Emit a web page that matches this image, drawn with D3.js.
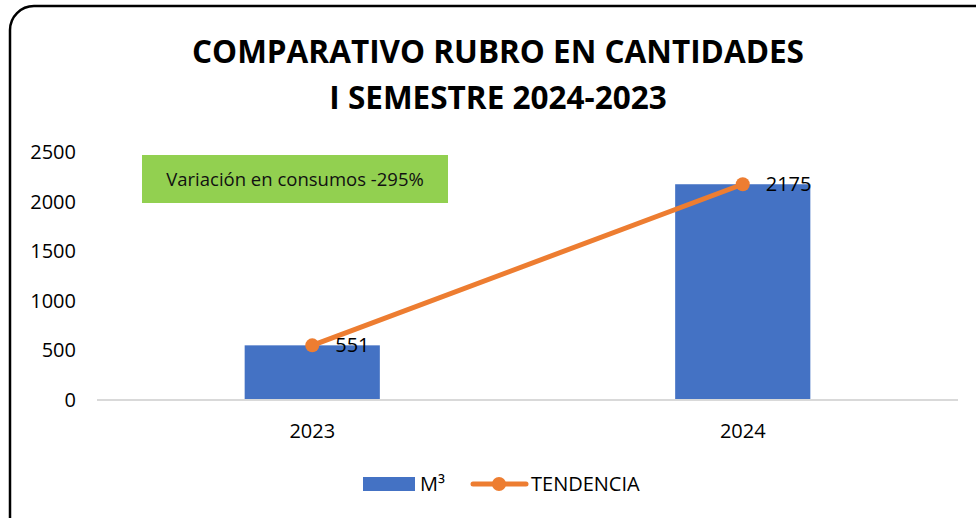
<!DOCTYPE html>
<html>
<head>
<meta charset="utf-8">
<script src="https://cdn.jsdelivr.net/npm/d3@7"></script>
<style>
  body { margin: 0; background: #fff; }
  svg { display: block; font-family: "Open Sans", "Noto Sans", sans-serif; }
</style>
</head>
<body>
<svg id="chart" width="976" height="518"></svg>
<script>
const years = ["2023", "2024"];
const volumes = [551, 2175];
const yTicks = [0, 500, 1000, 1500, 2000, 2500];
const titleLines = ["COMPARATIVO RUBRO EN CANTIDADES", "I SEMESTRE 2024-2023"];
const noteText = "Variación en consumos -295%";
const legendItems = ["M³", "TENDENCIA"];

const svg = d3.select("#chart");
const MARGIN = { LEFT: 97, RIGHT: 18, TOP: 152, BOTTOM: 118 };
const width = 976, height = 518;

const BLUE = "#4472C4";
const ORANGE = "#ED7D31";
const FS = 20;

// frame, rounded and running off the right / bottom edge
svg.append("rect")
  .attr("x", 10).attr("y", 6)
  .attr("width", 1000).attr("height", 560)
  .attr("rx", 24)
  .attr("fill", "none")
  .attr("stroke", "#000")
  .attr("stroke-width", 2.5);

const x = d3.scaleBand()
  .domain(years)
  .range([MARGIN.LEFT, width - MARGIN.RIGHT])
  .paddingInner(0.686)
  .paddingOuter(0.343);

const y = d3.scaleLinear()
  .domain([0, 2500])
  .range([height - MARGIN.BOTTOM, MARGIN.TOP]);

// title
svg.append("g").selectAll("text")
  .data(titleLines)
  .join("text")
  .attr("x", 498)
  .attr("y", (d, i) => 63 + i * 46)
  .attr("text-anchor", "middle")
  .attr("font-weight", "bold")
  .attr("font-size", 31.5)
  .attr("fill", "#000")
  .text((d) => d);

// y axis labels
const yAxis = svg.append("g")
  .attr("transform", `translate(${MARGIN.LEFT - 21},0)`)
  .call(d3.axisLeft(y).tickValues(yTicks).tickSize(0).tickPadding(0).tickFormat(d3.format("d")));
yAxis.select(".domain").remove();
yAxis.selectAll("text")
  .attr("font-size", FS)
  .attr("font-family", "\"Open Sans\", sans-serif")
  .attr("fill", "#000");

// bars
svg.append("g").selectAll("rect")
  .data(volumes)
  .join("rect")
  .attr("x", (d, i) => x(years[i]))
  .attr("y", (d) => y(d))
  .attr("width", x.bandwidth())
  .attr("height", (d) => y(0) - y(d))
  .attr("fill", BLUE);

// baseline
svg.append("line")
  .attr("x1", MARGIN.LEFT).attr("x2", width - MARGIN.RIGHT)
  .attr("y1", y(0)).attr("y2", y(0))
  .attr("stroke", "#d9d9d9")
  .attr("stroke-width", 2);

// x axis labels
const xAxis = svg.append("g")
  .attr("transform", `translate(0,${y(0) + 14})`)
  .call(d3.axisBottom(x).tickSize(0).tickPadding(10));
xAxis.select(".domain").remove();
xAxis.selectAll("text")
  .attr("font-size", FS)
  .attr("font-family", "\"Open Sans\", sans-serif")
  .attr("fill", "#000");

// trend line
const cx = (i) => x(years[i]) + x.bandwidth() / 2;
const line = d3.line()
  .x((d, i) => cx(i))
  .y((d) => y(d));

svg.append("path")
  .datum(volumes)
  .attr("d", line)
  .attr("fill", "none")
  .attr("stroke", ORANGE)
  .attr("stroke-width", 5)
  .attr("stroke-linecap", "round");

svg.append("g").selectAll("circle")
  .data(volumes)
  .join("circle")
  .attr("cx", (d, i) => cx(i))
  .attr("cy", (d) => y(d))
  .attr("r", 7)
  .attr("fill", ORANGE);

svg.append("g").selectAll("text")
  .data(volumes)
  .join("text")
  .attr("x", (d, i) => cx(i) + 23)
  .attr("y", (d) => y(d))
  .attr("dy", "0.35em")
  .attr("font-size", FS)
  .attr("fill", "#000")
  .text((d) => d);

// note box
svg.append("rect")
  .attr("x", 142).attr("y", 155)
  .attr("width", 306).attr("height", 48)
  .attr("fill", "#92D050");
svg.append("text")
  .attr("x", 295).attr("y", 180)
  .attr("dy", "0.35em")
  .attr("text-anchor", "middle")
  .attr("font-size", 18.5)
  .attr("fill", "#111")
  .text(noteText);

// legend
const lg = svg.append("g").attr("transform", "translate(0,484)");
lg.append("rect")
  .attr("x", 363).attr("y", -7)
  .attr("width", 52).attr("height", 14)
  .attr("fill", BLUE);
lg.append("text")
  .attr("x", 420).attr("dy", "0.35em")
  .attr("font-size", FS)
  .text(legendItems[0]);
lg.append("line")
  .attr("x1", 473).attr("x2", 526)
  .attr("stroke", ORANGE)
  .attr("stroke-width", 5)
  .attr("stroke-linecap", "round");
lg.append("circle")
  .attr("cx", 499).attr("r", 7)
  .attr("fill", ORANGE);
lg.append("text")
  .attr("x", 531).attr("dy", "0.35em")
  .attr("font-size", FS)
  .text(legendItems[1]);
</script>
</body>
</html>
